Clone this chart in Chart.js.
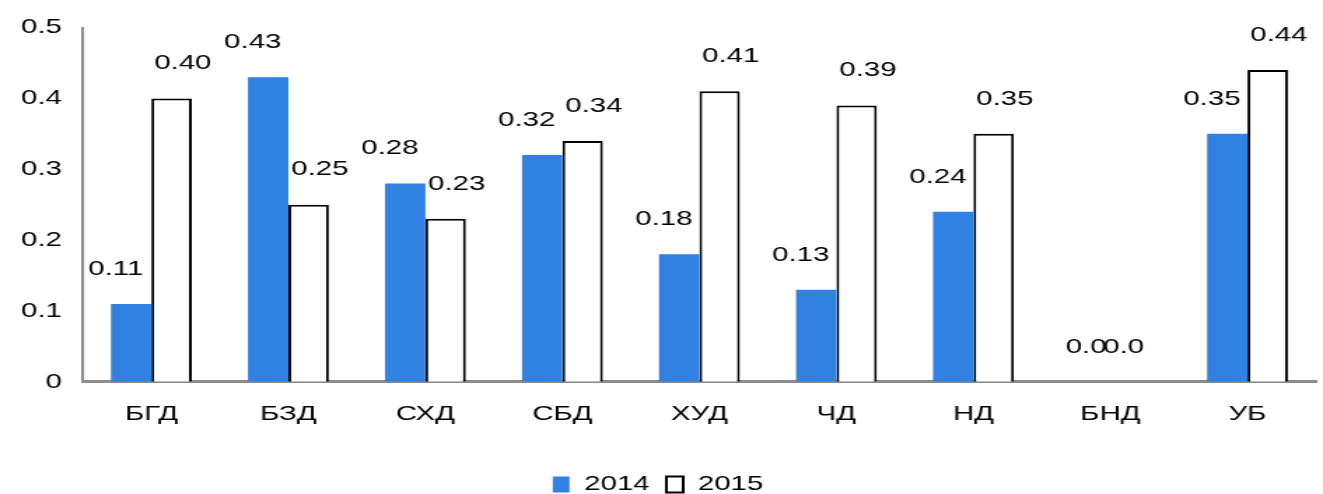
<!DOCTYPE html>
<html>
<head>
<meta charset="utf-8">
<script src="https://cdn.jsdelivr.net/npm/chart.js@4"></script>
<style>
    html, body { margin: 0; padding: 0; background: #fff; overflow: hidden; }
    /* the reference is drawn with a wide, stretched look */
    #wrap { width: 945px; height: 505px; transform: scaleX(1.4); transform-origin: 0 0; }
</style>
</head>
<body>
<div id="wrap"><canvas id="chart"></canvas></div>
<script>
const categories = ['БГД', 'БЗД', 'СХД', 'СБД', 'ХУД', 'ЧД', 'НД', 'БНД', 'УБ'];
const values2014 = [0.11, 0.43, 0.28, 0.32, 0.18, 0.13, 0.24, 0, 0.35];
const values2015 = [0.40, 0.25, 0.23, 0.34, 0.41, 0.39, 0.35, 0, 0.44];
const yTicks = [0, 0.1, 0.2, 0.3, 0.4, 0.5];

const blue = '#3081e2';
const axisGray = '#8c8c8c';
const fontFamily = '"Liberation Sans", Arial, sans-serif';

// labels sit above each bar, nudged outward like the original
const barLabels = {
    id: 'barLabels',
    afterDatasetsDraw(chart) {
        const ctx = chart.ctx;
        ctx.save();
        ctx.font = '21px ' + fontFamily;
        ctx.fillStyle = '#000';
        ctx.textAlign = 'center';
        ctx.textBaseline = 'middle';
        chart.data.datasets.forEach((ds, i) => {
            const meta = chart.getDatasetMeta(i);
            meta.data.forEach((bar, j) => {
                const v = ds.data[j];
                let dx = i === 0 ? -11 : 8;
                if (v === 0) dx = i === 0 ? -3 : -5;
                const text = v === 0 ? '0.0' : v.toFixed(2);
                ctx.fillText(text, bar.x + dx, bar.y - 35);
            });
        });
        ctx.restore();
    }
};

new Chart(document.getElementById('chart'), {
    type: 'bar',
    data: {
        labels: categories,
        datasets: [{
            label: '2014',
            data: values2014,
            backgroundColor: blue,
            borderWidth: 0
        }, {
            label: '2015',
            data: values2015,
            backgroundColor: '#ffffff',
            borderColor: '#000000',
            borderWidth: 2
        }]
    },
    options: {
        responsive: true,
        maintainAspectRatio: false,
        animation: false,
        categoryPercentage: 0.59,
        barPercentage: 1,
        layout: { padding: { top: 25, left: 0, right: 5, bottom: 0 } },
        plugins: {
            legend: {
                position: 'bottom',
                labels: {
                    color: '#000',
                    font: { family: fontFamily, size: 21 },
                    boxWidth: 12,
                    boxHeight: 16,
                    padding: 12
                }
            },
            tooltip: { enabled: false }
        },
        scales: {
            x: {
                grid: { display: false, drawTicks: false },
                border: { display: true, color: axisGray, width: 3 },
                ticks: {
                    color: '#000',
                    font: { family: fontFamily, size: 21 },
                    padding: 20,
                    maxRotation: 0
                },
                afterFit: (scale) => { scale.height += 15; }
            },
            y: {
                min: 0,
                max: 0.5,
                grid: { display: false, drawTicks: false },
                border: { display: true, color: axisGray, width: 2 },
                afterBuildTicks: (scale) => {
                    scale.ticks = yTicks.map(v => ({ value: v }));
                },
                ticks: {
                    color: '#000',
                    font: { family: fontFamily, size: 21 },
                    padding: 15,
                    callback: (v) => v === 0 ? '0' : v.toFixed(1)
                }
            }
        }
    },
    plugins: [barLabels]
});
</script>
</body>
</html>
